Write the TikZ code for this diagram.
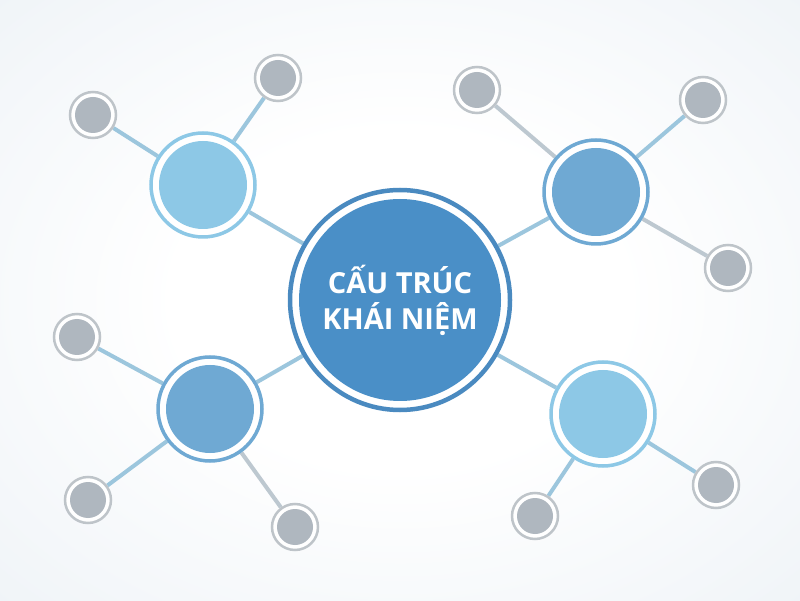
\documentclass[tikz,border=0pt]{standalone}
\usepackage{fontspec}
\newfontfamily\hubfont{Open Sans}
\usetikzlibrary{positioning,backgrounds}

\definecolor{hubblue}{HTML}{4A8FC7}
\definecolor{hubring}{HTML}{4A8AC0}
\definecolor{lightblue}{HTML}{8DC8E6}
\definecolor{midblue}{HTML}{6FA9D3}
\definecolor{leafgray}{HTML}{AFB7BF}
\definecolor{leafring}{HTML}{BEC4C9}
\definecolor{linkblue}{HTML}{9CC6DD}
\definecolor{linkgray}{HTML}{BDC8D0}
\definecolor{bgedge}{HTML}{E6EDF3}

\pgfdeclareradialshading{bgshade}{\pgfpoint{0bp}{0bp}}{color(0bp)=(white); color(14bp)=(white); color(50bp)=(bgedge); color(72bp)=(bgedge)}

\tikzset{
    hub/.style={circle, draw=hubring, line width=4.5pt, fill=white, inner sep=0pt,
        minimum size=220pt, align=center, text=white,
        font=\hubfont\bfseries\fontsize{29}{36}\selectfont,
        path picture={\fill[hubblue] (path picture bounding box.center) circle (101pt);}},
    branch/.style={circle, draw=#1, line width=3.5pt, fill=white, inner sep=0pt,
        minimum size=104pt,
        path picture={\fill[#1] (path picture bounding box.center) circle (44pt);}},
    leaf/.style={circle, draw=leafring, line width=2.5pt, fill=white, inner sep=0pt,
        minimum size=46pt,
        path picture={\fill[leafgray] (path picture bounding box.center) circle (18pt);}},
    link/.style={line width=4pt, draw=#1},
    link/.default=linkblue
}

\begin{document}
\begin{tikzpicture}[node distance=1cm, on grid]
    \node[hub] (c) at (400pt,300pt) {CẤU TRÚC\\KHÁI NIỆM};

    % branches
    \node[branch=lightblue, above left=115pt and 197pt of c] (tl) {};
    \node[branch=midblue, above right=108pt and 196pt of c] (tr) {};
    \node[branch=midblue, below left=109pt and 190pt of c] (bl) {};
    \node[branch=lightblue, below right=114pt and 203pt of c] (br) {};

    % leaves
    \node[leaf, above left=70pt and 110pt of tl] (tl1) {};
    \node[leaf, above right=107pt and 75pt of tl] (tl2) {};
    \node[leaf, above left=102pt and 119pt of tr] (tr1) {};
    \node[leaf, above right=92pt and 107pt of tr] (tr2) {};
    \node[leaf, below right=76pt and 132pt of tr] (tr3) {};
    \node[leaf, above left=72pt and 133pt of bl] (bl1) {};
    \node[leaf, below left=91pt and 122pt of bl] (bl2) {};
    \node[leaf, below right=118pt and 85pt of bl] (bl3) {};
    \node[leaf, below left=102pt and 68pt of br] (br1) {};
    \node[leaf, below right=71pt and 113pt of br] (br2) {};

    \begin{pgfonlayer}{background}
        \path[use as bounding box, shading=bgshade] (0,0) rectangle (800pt,600pt);
        \draw[link] (c) -- (tl);
        \draw[link] (c) -- (tr);
        \draw[link] (c) -- (bl);
        \draw[link] (c) -- (br);
        \draw[link] (tl) -- (tl1);
        \draw[link] (tl) -- (tl2);
        \draw[link=linkgray] (tr) -- (tr1);
        \draw[link] (tr) -- (tr2);
        \draw[link=linkgray] (tr) -- (tr3);
        \draw[link] (bl) -- (bl1);
        \draw[link] (bl) -- (bl2);
        \draw[link=linkgray] (bl) -- (bl3);
        \draw[link] (br) -- (br1);
        \draw[link] (br) -- (br2);
    \end{pgfonlayer}
\end{tikzpicture}
\end{document}
